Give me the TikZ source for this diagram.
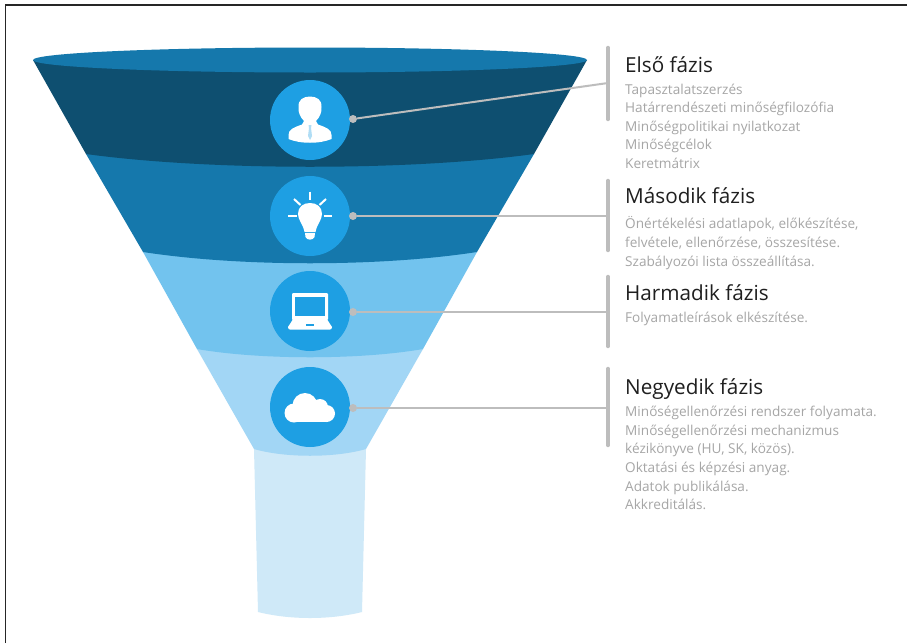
\documentclass[tikz,border=0pt]{standalone}
\usepackage{fontspec}
\setmainfont{Open Sans}
\definecolor{cA}{HTML}{0E4F70}
\definecolor{cB}{HTML}{1578AC}
\definecolor{cC}{HTML}{72C3EE}
\definecolor{cD}{HTML}{A2D6F5}
\definecolor{cE}{HTML}{CFE9F8}
\definecolor{cI}{HTML}{1E9FE3}
\definecolor{cG}{HTML}{BDBDBD}
\definecolor{cT}{HTML}{A6A6A6}
\tikzset{
 disc/.style={circle,fill=cI,minimum size=80pt,inner sep=0pt},
 dotnode/.style={circle,fill=cG,minimum size=8pt,inner sep=0pt},
 link/.style={draw=cG,line width=2pt},
 barline/.style={draw=cG,line width=3.4pt,line cap=round},
 ttl/.style={anchor=base west,inner sep=0pt,font=\fontsize{20.7}{24}\selectfont,text=black!88},
 txt/.style={anchor=north west,inner sep=0pt,align=left,font=\fontsize{13.6}{18.6}\selectfont,text=cT},
 icon/.style={fill=white,draw=none},
 ray/.style={draw=white,line width=2pt},
}
\begin{document}
\begin{tikzpicture}[x=1pt,y=-1pt]
\useasboundingbox (0,0) rectangle (907,643);
\fill[white] (0,0) rectangle (907,643);
% funnel bands
\fill[cE] (254,449) -- (258,612) .. controls (290,620) and (330,620) .. (362,612) -- (366,449) -- cycle;
\fill[cD] (197,349) -- (254,449) .. controls (285,458) and (335,458) .. (366,449) -- (423,349) -- cycle;
\fill[cC] (143,252) -- (197,349) .. controls (260,360) and (360,360) .. (423,349) -- (477,252) -- cycle;
\fill[cB] (86,154) -- (143,252) .. controls (240,267) and (380,267) .. (477,252) -- (534,154) -- cycle;
\fill[cA] (33,60) -- (86,154) .. controls (210,171) and (410,171) .. (534,154) -- (587,60) -- cycle;
\fill[cB] (310,60) ellipse [x radius=277, y radius=12.5];
% discs
\node[disc] (d1) at (310,120) {};
\node[disc] (d2) at (310,216) {};
\node[disc] (d3) at (310,311) {};
\node[disc] (d4) at (310,407) {};
% person icon
\fill[icon] (288.5,135) .. controls (288.5,129) and (294,127.5) .. (302,124.5) -- (304,121) .. controls (300,117) and (298,112) .. (298.5,107) .. controls (298,100) and (303,96.5) .. (310,96.5) .. controls (317,96.5) and (322,100) .. (321.5,107) .. controls (322,112) and (320,117) .. (316,121) -- (318,124.5) .. controls (326,127.5) and (331.5,129) .. (331.5,135) -- (331.5,139) .. controls (320,144) and (300,144) .. (288.5,139) -- cycle;
\fill[cI!35!white] (308.5,125) -- (311.5,125) -- (311,128) -- (312,136) -- (310,140) -- (308,136) -- (309,128) -- cycle;
% bulb icon
\draw[ray] (310,191.5) -- (310,200);
\draw[ray] (294,199) -- (300.5,205);
\draw[ray] (326,199) -- (319.5,205);
\draw[ray] (288,216) -- (296.5,216);
\draw[ray] (323.5,216) -- (332,216);
\fill[icon] (304.5,232) .. controls (303,224) and (298,220) .. (298,214) .. controls (298,207) and (303,203) .. (310,203) .. controls (317,203) and (322,207) .. (322,214) .. controls (322,220) and (317,224) .. (315.5,232) -- cycle;
\fill[icon] (305,233) -- (315,233) -- (314.5,237) .. controls (313,240.5) and (307,240.5) .. (305.5,237) -- cycle;
% laptop icon
\fill[icon,rounded corners=1pt] (292,293) rectangle (328,320);
\fill[cI] (295,297) rectangle (325,316);
\fill[icon] (293.5,318.5) -- (326.5,318.5) -- (332,327) .. controls (332,329) and (331,329.5) .. (330,329.5) -- (290,329.5) .. controls (289,329.5) and (288,329) .. (288,327) -- cycle;
\fill[cI] (306,324) rectangle (314,325.5);
% cloud icon
\fill[icon] (305,405.5) circle [radius=12.5];
\fill[icon] (294,413) circle [radius=9.5];
\fill[icon] (320,407) circle [radius=8];
\fill[icon] (326.5,413.5) circle [radius=8.5];
\fill[icon] (294,412) rectangle (326.5,422);
% bars
\coordinate (b1t) at (608,47.5); \coordinate (b1b) at (608,119.5);
\coordinate (b2t) at (608,180.5); \coordinate (b2b) at (608,250.5);
\coordinate (b3t) at (608,276.5); \coordinate (b3b) at (608,346.5);
\coordinate (b4t) at (608,368.5); \coordinate (b4b) at (608,445.5);
\draw[barline] (b1t) -- (b1b);
\draw[barline] (b2t) -- (b2b);
\draw[barline] (b3t) -- (b3b);
\draw[barline] (b4t) -- (b4b);
% connectors
\node[dotnode] (p1) at (353,119) {};
\node[dotnode] (p2) at (353,216) {};
\node[dotnode] (p3) at (353,312) {};
\node[dotnode] (p4) at (353,408) {};
\coordinate (q1) at (608,83);
\coordinate (q2) at (608,216);
\coordinate (q3) at (608,312);
\coordinate (q4) at (608,408);
\draw[link] (p1) -- (q1);
\draw[link] (p2) -- (q2);
\draw[link] (p3) -- (q3);
\draw[link] (p4) -- (q4);
% frame: only the top and left edges show
\draw[black!85,line width=1.6pt] (5.5,643) -- (5.5,5) -- (907,5);
% texts
\node[ttl] (t1) at (625,72) {Első fázis};
\node[txt] (x1) at (625,83.5) {Tapasztalatszerzés\\Határrendészeti minőségfilozófia\\Minőségpolitikai nyilatkozat\\Minőségcélok\\Keretmátrix};
\node[ttl] (t2) at (625,203) {Második fázis};
\node[txt] (x2) at (625,216.5) {Önértékelési adatlapok, előkészítése,\\felvétele, ellenőrzése, összesítése.\\Szabályozói lista összeállítása.};
\node[ttl] (t3) at (625,300) {Harmadik fázis};
\node[txt] (x3) at (625,312) {Folyamatleírások elkészítése.};
\node[ttl] (t4) at (625,394) {Negyedik fázis};
\node[txt] (x4) at (625,406) {Minőségellenőrzési rendszer folyamata.\\Minőségellenőrzési mechanizmus\\kézikönyve (HU, SK, közös).\\Oktatási és képzési anyag.\\Adatok publikálása.\\Akkreditálás.};
\end{tikzpicture}
\end{document}
